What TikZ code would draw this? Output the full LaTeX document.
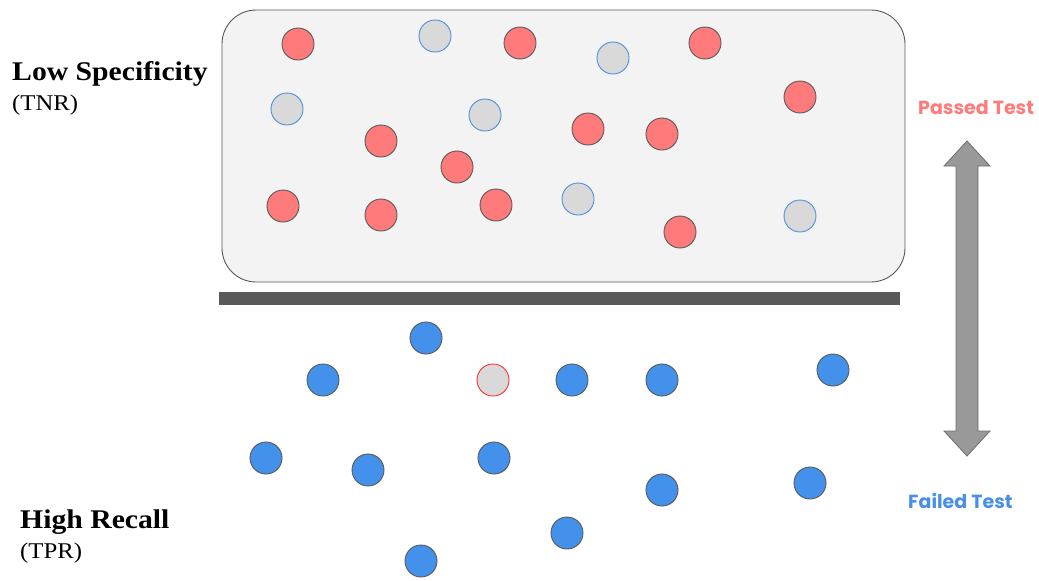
\documentclass[tikz,border=0pt]{standalone}
\usepackage{fontspec}
\setmainfont{Liberation Serif}
\newfontfamily\labelfont{Liberation Serif}[FakeStretch=1.1]
\newfontfamily\tagfont{Poppins}
\definecolor{redfill}{HTML}{FF7B7B}
\definecolor{bluefill}{HTML}{4391EA}
\definecolor{grayfill}{HTML}{D9D9D9}
\definecolor{boxfill}{HTML}{F3F3F3}
\definecolor{edgegray}{HTML}{595959}
\definecolor{blueedge}{HTML}{4A90E2}
\definecolor{rededge}{HTML}{FF3030}
\definecolor{arrowfill}{HTML}{999999}
\definecolor{arrowedge}{HTML}{6E6E6E}
\tikzset{
  dot/.style={circle, minimum size=32pt, inner sep=0pt, line width=0.9pt},
  reddot/.style={dot, fill=redfill, draw=edgegray},
  bluedot/.style={dot, fill=bluefill, draw=edgegray},
  graybluedot/.style={dot, fill=grayfill, draw=blueedge},
  grayreddot/.style={dot, fill=grayfill, draw=rededge},
  title/.style={anchor=base west, inner sep=0pt, font=\labelfont\bfseries\fontsize{27}{30}\selectfont},
  sub/.style={anchor=base west, inner sep=0pt, font=\labelfont\fontsize{22.5}{26}\selectfont},
  tag/.style={anchor=base west, inner sep=0pt, font=\tagfont\bfseries\fontsize{19}{22}\selectfont},
}
\begin{document}
\begin{tikzpicture}[x=1pt,y=-1pt]
\useasboundingbox (0,0) rectangle (1039,581);
% box
\node[draw=edgegray, fill=boxfill, rounded corners=34pt, line width=0.9pt, minimum width=683pt, minimum height=272pt, inner sep=0pt] (box) at (563.5,146) {};
% bar
\node[fill=edgegray, minimum width=681pt, minimum height=13pt, inner sep=0pt] (bar) at (559.5,298.5) {};
% upper dots
\node[reddot] (r1) at (298,44) {};
\node[reddot] (r2) at (520,43) {};
\node[reddot] (r3) at (705,43) {};
\node[reddot] (r4) at (800,97) {};
\node[reddot] (r5) at (381,141) {};
\node[reddot] (r6) at (588,129) {};
\node[reddot] (r7) at (662,134) {};
\node[reddot] (r8) at (457,167) {};
\node[reddot] (r9) at (283,206) {};
\node[reddot] (r10) at (381,215) {};
\node[reddot] (r11) at (496,205) {};
\node[reddot] (r12) at (680,232) {};
\node[graybluedot] (g1) at (435,36) {};
\node[graybluedot] (g2) at (613,58) {};
\node[graybluedot] (g3) at (287,109) {};
\node[graybluedot] (g4) at (485,115) {};
\node[graybluedot] (g5) at (578,199) {};
\node[graybluedot] (g6) at (800,216) {};
% lower dots
\node[bluedot] (b1) at (426,338) {};
\node[bluedot] (b2) at (323,380) {};
\node[bluedot] (b3) at (572,380) {};
\node[bluedot] (b4) at (662,380) {};
\node[bluedot] (b5) at (833,370) {};
\node[bluedot] (b6) at (266,458) {};
\node[bluedot] (b7) at (368,470) {};
\node[bluedot] (b8) at (494,458) {};
\node[bluedot] (b9) at (662,490) {};
\node[bluedot] (b10) at (810,483) {};
\node[bluedot] (b11) at (567,533) {};
\node[bluedot] (b12) at (421,561) {};
\node[grayreddot] (gr1) at (493,380) {};
% double arrow
\path[fill=arrowfill, draw=arrowedge, line width=0.8pt, line join=miter]
  (967,141) -- (990,166) -- (978,166) -- (978,431) -- (990,431) -- (967,456)
  -- (944,431) -- (956,431) -- (956,166) -- (944,166) -- cycle;
% labels
\node[title] (t1) at (12,80) {Low Specificity};
\node[sub] (s1) at (12,110) {(TNR)};
\node[title] (t2) at (20,528) {High Recall};
\node[sub] (s2) at (20,558) {(TPR)};
\node[tag, text=redfill] (p) at (918,114) {Passed Test};
\node[tag, text=blueedge] (f) at (908,508) {Failed Test};
\end{tikzpicture}
\end{document}
